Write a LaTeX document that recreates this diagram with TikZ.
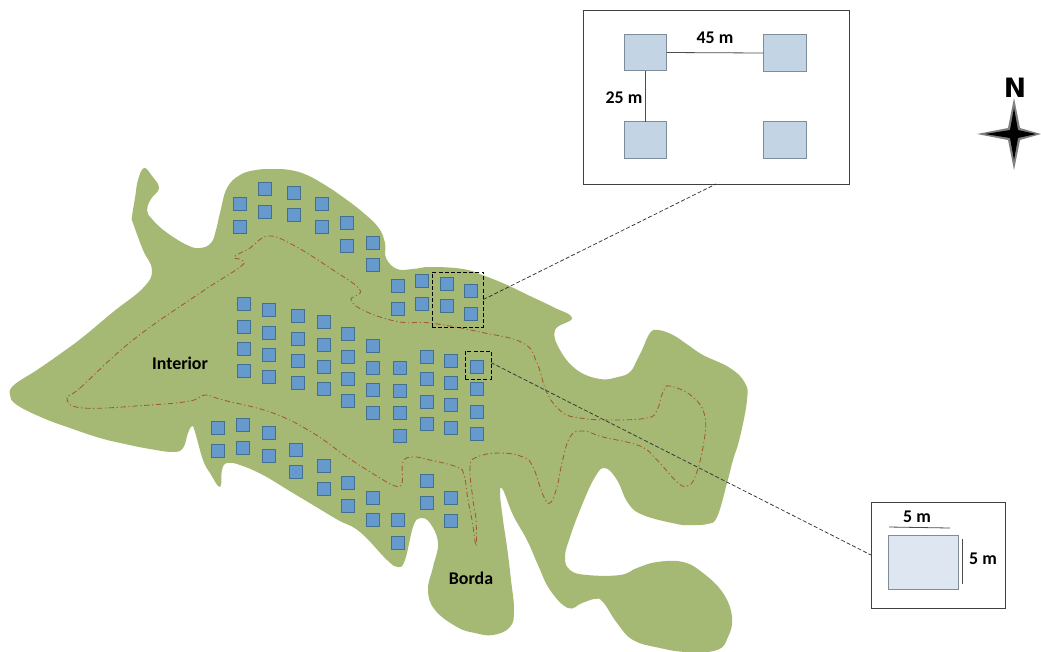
\documentclass[tikz,border=0pt]{standalone}
\usepackage{fontspec}
\setmainfont{Carlito}
\newfontfamily\northfont{DejaVu Sans}
\definecolor{patch}{HTML}{A5B975}
\definecolor{edgeline}{HTML}{A05A30}
\definecolor{plotfill}{HTML}{6699CC}
\definecolor{plotedge}{HTML}{43708F}
\definecolor{bigfill}{HTML}{C3D4E5}
\definecolor{smallfill}{HTML}{DEE7F1}
\definecolor{insetedge}{HTML}{7F8C99}
\tikzset{
  x=0.75pt,y=-0.75pt,
  plotsq/.style={draw=plotedge,fill=plotfill,line width=0.7pt,minimum size=9.6pt,inner sep=0pt,outer sep=0pt},
  bigsq/.style={draw=insetedge,fill=bigfill,line width=0.7pt,inner sep=0pt,outer sep=0pt,minimum width=32pt,minimum height=27.5pt},
  inset/.style={draw=black!75,fill=white,line width=0.6pt,inner sep=0pt,outer sep=0pt},
  zoombox/.style={draw=black,line width=0.7pt,dash pattern=on 3pt off 1.6pt,inner sep=0pt,outer sep=0pt},
  leader/.style={draw=black!80,line width=0.55pt,dash pattern=on 3pt off 1.6pt},
  dim/.style={draw=black!70,line width=0.6pt},
  lbl/.style={font=\fontsize{13.4}{15}\selectfont\bfseries,text=black,inner sep=0pt},
  contour/.style={draw=edgeline,line width=0.65pt,dash pattern=on 4pt off 2pt on 0.9pt off 2pt},
}
\begin{document}
\begin{tikzpicture}
\useasboundingbox (0,0) rectangle (1041,651);
% forest patch
\fill[patch] plot[smooth cycle,tension=0.7] coordinates {
(144,168)(152,176)(159,188)(151,199)(147,210)(152,219)(166,232)(187,245)(200,248)(211,243)(216,230)(220,213)(227,188)(240,175)(256,170)(273,169)(290,170)(307,175)(325,185)(340,195)(360,210)(378,227)(385,243)(386,258)(397,269)(413,269)(430,267)(463,269)(485,276)(507,285)(530,296)(553,307)(572,318)(555,330)(560,350)(577,370)(600,379)(618,377)(630,372)(637,360)(642,350)(650,333)(658,330)(673,335)(688,345)(703,355)(730,368)(745,383)(747,400)(740,437)(733,460)(727,483)(717,517)(707,524)(690,525)(677,524)(643,515)(628,503)(617,480)(605,468)(595,477)(582,505)(570,537)(565,557)(570,570)(587,575)(620,575)(637,568)(657,562)(683,562)(703,573)(723,593)(732,617)(728,637)(717,650)(687,652)(660,648)(633,640)(617,623)(603,602)(595,599)(582,603)(568,608)(550,590)(538,565)(527,540)(513,515)(503,490)(500,493)(503,520)(507,547)(511,580)(514,610)(510,627)(493,635)(475,633)(457,627)(435,610)(428,590)(433,567)(438,543)(430,523)(420,518)(413,527)(405,560)(398,567)(387,560)(360,532)(338,520)(313,505)(288,490)(263,475)(240,465)(227,463)(222,470)(220,487)(210,473)(203,460)(195,432)(192,426)(188,433)(183,448)(173,452)(150,449)(125,444)(100,438)(70,428)(43,418)(17,405)(10,395)(14,385)(37,370)(60,354)(83,337)(113,312)(143,288)(152,270)(143,250)(133,223)(132,217)(135,198)(138,180)};
% interior contour
\path[contour] plot[smooth cycle,tension=0.7] coordinates {
(67,398)(80,388)(133,340)(200,293)(240,267)(242,260)(234,257)(250,248)(268,236)(293,245)(333,270)(360,290)(351,300)(367,312)(400,322)(430,323)(480,332)(523,343)(537,363)(547,393)(562,412)(580,418)(610,420)(647,418)(657,410)(663,392)(670,386)(693,397)(705,417)(703,447)(695,477)(687,486)(677,482)(657,460)(640,446)(603,437)(583,431)(570,437)(562,463)(557,487)(550,503)(543,495)(533,467)(523,457)(500,453)(477,457)(470,467)(473,500)(476,520)(476,546)(472,520)(468,500)(464,475)(457,467)(430,460)(413,457)(403,462)(402,483)(395,486)(380,478)(347,457)(313,433)(273,413)(223,400)(205,395)(190,401)(150,405)(83,408)};
% plots
\foreach \px/\py [count=\i] in {
265/189,294/193,240/204,265/212,294/215,322/204,240/227,322/227,347/223,347/246,373/243,373/265,
398/286,398/309,422/281,422/304,447/284,447/306,471/291,471/314,
244/304,244/327,244/349,244/371,269/310,269/333,269/355,269/377,
298/316,298/339,298/361,298/383,324/322,324/345,324/367,324/389,
348/334,348/357,348/379,348/401,373/346,373/368,373/390,373/413,
400/368,400/391,400/413,400/436,427/357,427/379,427/402,427/424,
451/361,451/383,451/405,451/428,477/367,477/389,477/412,477/434,
218/428,218/451,243/425,243/448,269/433,269/456,296/450,296/472,
324/466,324/489,348/483,348/506,373/498,373/520,398/520,398/543,
427/481,427/503,451/498,451/521}
  \node[plotsq] (plot\i) at (\px,\py) {};
% zoom boxes
\node[zoombox,minimum width=38.5pt,minimum height=41.3pt] (bigzoom) at (457.7,299.5) {};
\node[zoombox,minimum width=19.5pt,minimum height=21pt] (smallzoom) at (478,365) {};
% top inset
\node[inset,minimum width=199.5pt,minimum height=130.5pt] (topinset) at (716,97) {};
\node[bigsq] (a) at (645.5,52.5) {};
\node[bigsq] (b) at (785,53) {};
\node[bigsq] (c) at (645.5,140) {};
\node[bigsq] (d) at (785,140) {};
\draw[dim] (a.east) -- (b.west);
\draw[dim] (a.south) -- (c.north);
\node[lbl] (l45) at (715,38) {45 m};
\node[lbl] (l25) at (624,98) {25 m};
% lower inset
\node[inset,minimum width=100.5pt,minimum height=79.5pt] (lowinset) at (938,555) {};
\node[draw=insetedge,fill=smallfill,line width=0.7pt,inner sep=0pt,outer sep=0pt,minimum width=52.5pt,minimum height=40.5pt] (e) at (923,562) {};
\coordinate (w1) at (889,527);
\coordinate (w2) at (950,528);
\coordinate (h1) at (962,539);
\coordinate (h2) at (962,584);
\draw[dim] (w1) -- (w2);
\draw[dim] (h1) -- (h2);
\node[lbl] (l5a) at (917,517) {5 m};
\node[lbl] (l5b) at (983,559) {5 m};
% leaders
\draw[leader] (bigzoom.east) -- (topinset.south);
\draw[leader] ([yshift=1.8pt]smallzoom.east) -- (lowinset.west);
% labels
\node[lbl] (interior) at (180,363) {Interior};
\node[lbl] (borda) at (471,578) {Borda};
% north
\node[inner sep=0pt,font=\fontsize{20}{22}\selectfont\northfont\bfseries] (north) at (1015,88) {N};
\fill[black!50] (1014,98) -- (1020,128) -- (1041,134) -- (1020,140) -- (1014,170) -- (1008,140) -- (977,134) -- (1008,128) -- cycle;
\fill[black] (1014,108) -- (1018,130) -- (1036,134) -- (1018,138) -- (1014,160) -- (1010,138) -- (985,134) -- (1010,130) -- cycle;
\end{tikzpicture}
\end{document}
